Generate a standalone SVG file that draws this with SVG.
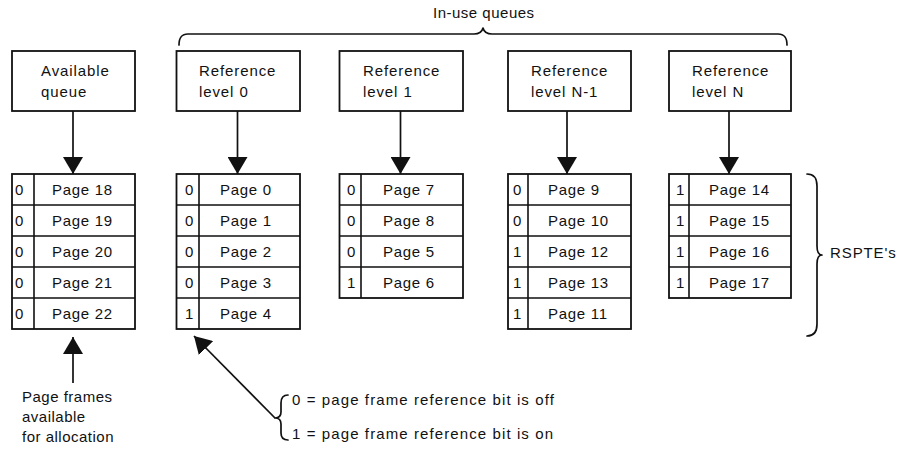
<svg xmlns="http://www.w3.org/2000/svg" width="903" height="450" viewBox="0 0 903 450">
  <style>
    .box { fill: #fff; stroke: #111; stroke-width: 1.8; }
    .rule { stroke: #111; stroke-width: 1.6; fill: none; }
    .brace { stroke: #111; stroke-width: 1.7; fill: none; stroke-linecap: round; stroke-linejoin: round; }
    .conn { stroke: #111; stroke-width: 1.7; fill: none; }
    text { font-family: "Liberation Sans", Arial, sans-serif; font-size: 15px; fill: #111; }
    .hd { letter-spacing: 0.9px; }
    .pg { letter-spacing: 0.7px; }
    .bit { letter-spacing: 0; }
    .note { letter-spacing: 0.5px; }
    .legend { letter-spacing: 1.1px; }
  </style>
  <defs>
    <marker id="head" markerUnits="userSpaceOnUse" markerWidth="18" markerHeight="20" refX="17" refY="10" orient="auto" viewBox="0 0 18 20">
      <path d="M0,0 L17,10 L0,20 Z" fill="#111"/>
    </marker>
  </defs>

  <!-- title and grouping brace over the in-use queues -->
  <text x="433" y="18" class="note">In-use queues</text>
  <path class="brace" d="M179,45 C179,38 181,34 188,34 L474,34 C479,34 482,32 483,28 C484,32 487,34 492,34 L778,34 C785,34 787,38 787,45"/>

  <!-- queue anchors -->
  <g id="available-queue">
    <rect class="box" x="12" y="51" width="123" height="60"/>
    <text x="41" y="76" class="hd">Available</text>
    <text x="41" y="97" class="hd">queue</text>
  </g>
  <g id="ref-level-0">
    <rect class="box" x="176.5" y="51" width="123.5" height="60"/>
    <text x="199" y="76" class="hd">Reference</text>
    <text x="199" y="97" class="hd">level 0</text>
  </g>
  <g id="ref-level-1">
    <rect class="box" x="339.5" y="51" width="123.5" height="60"/>
    <text x="363" y="76" class="hd">Reference</text>
    <text x="363" y="97" class="hd">level 1</text>
  </g>
  <g id="ref-level-n-1">
    <rect class="box" x="508" y="51" width="123" height="60"/>
    <text x="531" y="76" class="hd">Reference</text>
    <text x="531" y="97" class="hd">level N-1</text>
  </g>
  <g id="ref-level-n">
    <rect class="box" x="669" y="51" width="122" height="60"/>
    <text x="692" y="76" class="hd">Reference</text>
    <text x="692" y="97" class="hd">level N</text>
  </g>

  <!-- page frame tables (RSPTE lists) -->
  <g id="available-list">
    <rect class="box" x="12" y="174" width="123" height="155"/>
    <path class="rule" d="M12,205 H135 M12,236 H135 M12,267 H135 M12,298 H135 M34,174 V329"/>
    <text x="15" y="194.5" class="bit">0</text><text x="52" y="194.5" class="pg">Page 18</text>
    <text x="15" y="225.5" class="bit">0</text><text x="52" y="225.5" class="pg">Page 19</text>
    <text x="15" y="256.5" class="bit">0</text><text x="52" y="256.5" class="pg">Page 20</text>
    <text x="15" y="287.5" class="bit">0</text><text x="52" y="287.5" class="pg">Page 21</text>
    <text x="15" y="318.5" class="bit">0</text><text x="52" y="318.5" class="pg">Page 22</text>
  </g>
  <g id="level-0-list">
    <rect class="box" x="176.5" y="174" width="123.5" height="155"/>
    <path class="rule" d="M176.5,205 H300 M176.5,236 H300 M176.5,267 H300 M176.5,298 H300 M199,174 V329"/>
    <text x="185" y="194.5" class="bit">0</text><text x="220" y="194.5" class="pg">Page 0</text>
    <text x="185" y="225.5" class="bit">0</text><text x="220" y="225.5" class="pg">Page 1</text>
    <text x="185" y="256.5" class="bit">0</text><text x="220" y="256.5" class="pg">Page 2</text>
    <text x="185" y="287.5" class="bit">0</text><text x="220" y="287.5" class="pg">Page 3</text>
    <text x="185" y="318.5" class="bit">1</text><text x="220" y="318.5" class="pg">Page 4</text>
  </g>
  <g id="level-1-list">
    <rect class="box" x="339.5" y="174" width="123.5" height="124"/>
    <path class="rule" d="M339.5,205 H463 M339.5,236 H463 M339.5,267 H463 M361,174 V298"/>
    <text x="347" y="194.5" class="bit">0</text><text x="383" y="194.5" class="pg">Page 7</text>
    <text x="347" y="225.5" class="bit">0</text><text x="383" y="225.5" class="pg">Page 8</text>
    <text x="347" y="256.5" class="bit">0</text><text x="383" y="256.5" class="pg">Page 5</text>
    <text x="347" y="287.5" class="bit">1</text><text x="383" y="287.5" class="pg">Page 6</text>
  </g>
  <g id="level-n-1-list">
    <rect class="box" x="508" y="174" width="123" height="155"/>
    <path class="rule" d="M508,205 H631 M508,236 H631 M508,267 H631 M508,298 H631 M528,174 V329"/>
    <text x="513" y="194.5" class="bit">0</text><text x="548" y="194.5" class="pg">Page 9</text>
    <text x="513" y="225.5" class="bit">0</text><text x="548" y="225.5" class="pg">Page 10</text>
    <text x="513" y="256.5" class="bit">1</text><text x="548" y="256.5" class="pg">Page 12</text>
    <text x="513" y="287.5" class="bit">1</text><text x="548" y="287.5" class="pg">Page 13</text>
    <text x="513" y="318.5" class="bit">1</text><text x="548" y="318.5" class="pg">Page 11</text>
  </g>
  <g id="level-n-list">
    <rect class="box" x="669" y="174" width="122" height="124"/>
    <path class="rule" d="M669,205 H791 M669,236 H791 M669,267 H791 M689,174 V298"/>
    <text x="676" y="194.5" class="bit">1</text><text x="709" y="194.5" class="pg">Page 14</text>
    <text x="676" y="225.5" class="bit">1</text><text x="709" y="225.5" class="pg">Page 15</text>
    <text x="676" y="256.5" class="bit">1</text><text x="709" y="256.5" class="pg">Page 16</text>
    <text x="676" y="287.5" class="bit">1</text><text x="709" y="287.5" class="pg">Page 17</text>
  </g>

  <!-- brace labelling the table entries -->
  <g id="rspte-label">
    <path class="brace" d="M807,174 C814,174 817,178 817,186 L817,246 C817,252 819,255 822,255 C819,255 817,258 817,264 L817,324 C817,332 814,336 807,336"/>
    <text x="830" y="258" class="hd">RSPTE's</text>
  </g>

  <!-- note under the available list -->
  <g id="alloc-note">
    <text x="22" y="402" class="note">Page frames</text>
    <text x="22" y="422" class="note">available</text>
    <text x="22" y="442" class="note">for allocation</text>
  </g>

  <!-- reference bit legend -->
  <g id="bit-legend">
    <path class="brace" d="M288,395 C283,395 281,398 281,403 L281,412 C281,416 279,418 275,418 C279,418 281,420 281,424 L281,433 C281,438 283,440 288,440"/>
    <text x="292" y="405" class="legend">0 = page frame reference bit is off</text>
    <text x="292" y="439" class="legend">1 = page frame reference bit is on</text>
  </g>

  <!-- connectors -->
  <g id="connectors">
    <path class="conn" d="M73,111 V174" marker-end="url(#head)"/>
    <path class="conn" d="M237.5,111 V174" marker-end="url(#head)"/>
    <path class="conn" d="M400.5,111 V174" marker-end="url(#head)"/>
    <path class="conn" d="M567,111 V174" marker-end="url(#head)"/>
    <path class="conn" d="M729,111 V174" marker-end="url(#head)"/>
    <path class="conn" d="M73,383 V337" marker-end="url(#head)"/>
    <path class="conn" d="M275,418 L194,336" marker-end="url(#head)"/>
  </g>
</svg>
